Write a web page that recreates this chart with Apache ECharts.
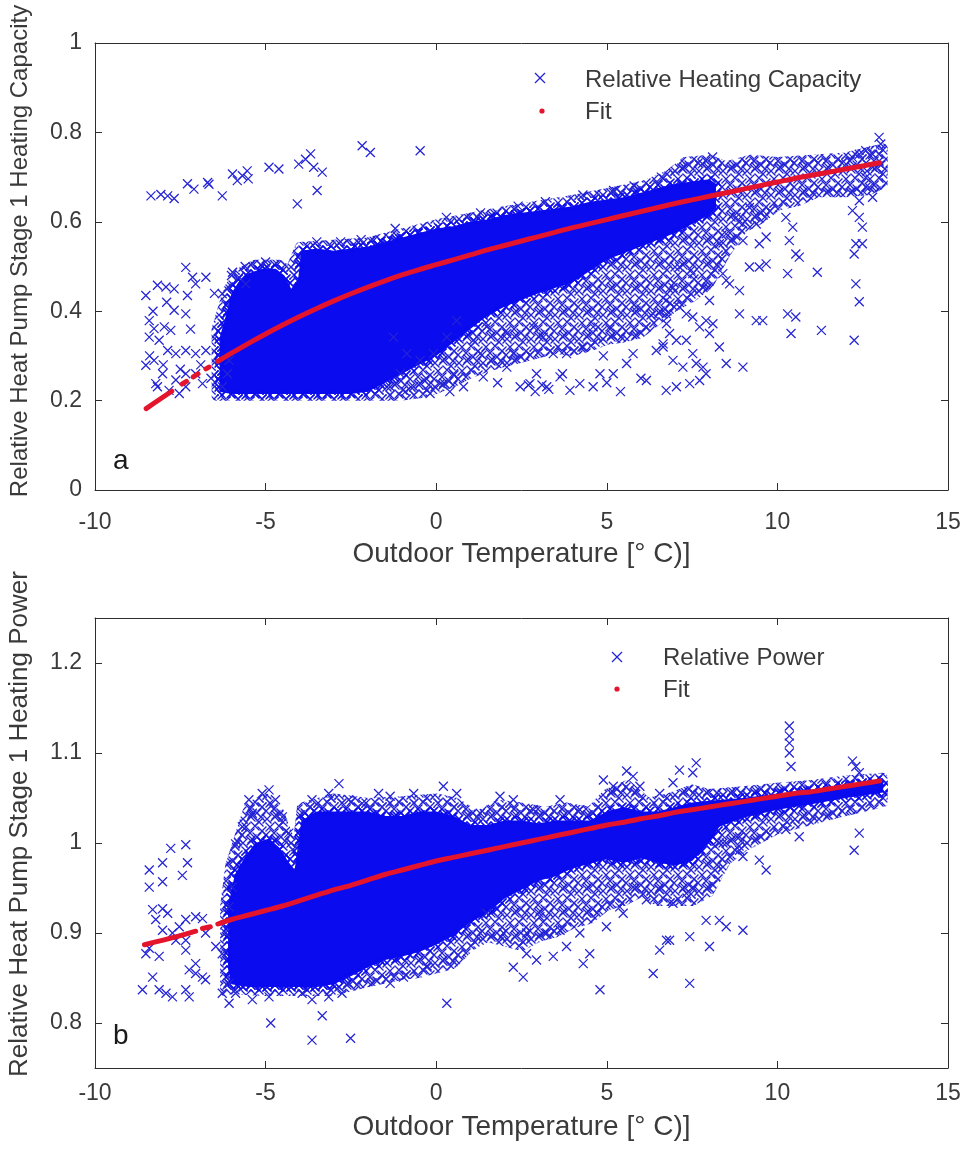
<!DOCTYPE html>
<html>
<head>
<meta charset="utf-8">
<script src="https://cdn.jsdelivr.net/npm/echarts@6/dist/echarts.min.js"></script>
<style>
  html, body { margin: 0; padding: 0; background: #ffffff; }
  #chart { width: 969px; height: 1153px; }
</style>
</head>
<body>
<div id="chart"></div>
<script>
// ---------- axis ticks ----------
const tempTicks = [-10, -5, 0, 5, 10, 15];
const capTicks = [0, 0.2, 0.4, 0.6, 0.8, 1];
const powTicks = [0.8, 0.9, 1, 1.1, 1.2];

// ---------- panel a: relative heating capacity vs outdoor temperature ----------
// densely overplotted core of the readings: upper edge (left to right), lower edge (right to left)
const capCoreUpper = [[-6.35,0.22],[-6.35,0.34],[-6.2,0.38],[-6.0,0.44],[-5.8,0.465],[-5.5,0.485],[-5.1,0.495],[-4.7,0.495],[-4.45,0.48],[-4.25,0.45],[-4.05,0.47],[-3.95,0.535],[-3.5,0.54],[-3.0,0.535],[-2.5,0.54],[-2.0,0.545],[-1.5,0.555],[-1.0,0.565],[-0.5,0.575],[0,0.585],[0.5,0.59],[1,0.60],[1.5,0.605],[2,0.615],[2.5,0.62],[3,0.625],[3.5,0.63],[4,0.635],[4.5,0.645],[5,0.65],[5.5,0.655],[6,0.665],[6.5,0.675],[7,0.685],[7.5,0.69],[8,0.695],[8.2,0.685]];
const capCoreLower = [[8.2,0.63],[8,0.615],[7,0.575],[6,0.545],[5,0.515],[4.5,0.49],[4,0.465],[3,0.44],[2,0.41],[1.5,0.39],[1,0.36],[0.5,0.33],[0,0.30],[-0.5,0.28],[-1,0.26],[-1.5,0.24],[-2,0.22],[-2.5,0.215],[-3,0.215],[-4,0.215],[-5,0.215],[-6,0.215]];
// looser halo of crosses around the core
const capHaloUpper = [[-6.45,0.21],[-6.45,0.36],[-6.1,0.45],[-5.8,0.485],[-5.3,0.505],[-4.6,0.505],[-4.3,0.49],[-4.0,0.545],[-2.0,0.555],[0,0.595],[2,0.625],[4,0.65],[6,0.68],[6.8,0.705],[7.3,0.735],[8.0,0.74],[8.5,0.725],[9.2,0.74],[10,0.735],[11,0.74],[12,0.745],[12.8,0.76],[13.1,0.765]];
const capHaloLower = [[13.1,0.685],[12.7,0.67],[12,0.665],[11.2,0.665],[10.6,0.645],[10,0.635],[9.5,0.605],[9,0.585],[8.5,0.53],[8.0,0.46],[7.5,0.43],[7,0.41],[6.5,0.38],[6,0.35],[5.5,0.34],[5,0.335],[4.5,0.32],[4,0.31],[3.5,0.315],[3,0.305],[2.5,0.295],[2,0.285],[1.5,0.275],[1,0.26],[0.5,0.24],[0,0.225],[-0.5,0.215],[-1,0.21],[-2,0.21],[-2.5,0.21]];
// individual readings outside the dense cloud
const capPoints = [
  [-8.36,0.658],[-8.07,0.661],[-7.87,0.658],[-7.68,0.652],[-7.29,0.685],[-7.10,0.673],[-6.70,0.688],[-6.66,0.684],[-6.27,0.658],[-5.97,0.707],[-5.83,0.692],[-5.68,0.703],[-5.54,0.714],[-5.51,0.696],[-4.90,0.722],[-4.61,0.718],[-4.03,0.729],[-3.83,0.740],[-3.68,0.752],[-3.59,0.722],[-3.34,0.711],[-3.49,0.670],[-4.07,0.640],[-2.17,0.770],[-1.93,0.755],[-0.47,0.759],
  [-8.51,0.435],[-8.17,0.458],[-7.92,0.454],[-7.68,0.450],[-7.34,0.498],[-7.14,0.476],[-7.05,0.461],[-6.75,0.476],[-7.29,0.435],[-7.68,0.402],[-7.34,0.394],[-8.41,0.379],[-8.27,0.361],[-7.97,0.365],[-7.78,0.357],[-8.41,0.342],[-8.12,0.335],[-7.87,0.312],[-7.63,0.305],[-7.34,0.312],[-7.05,0.305],[-8.51,0.279],[-8.27,0.290],[-8.02,0.260],[-8.22,0.238],[-7.63,0.246],[-7.34,0.231],[-7.34,0.260],[-7.05,0.260],[-6.75,0.312],[-6.85,0.238],[-6.27,0.439],[-5.97,0.487],[-5.78,0.476],[-5.58,0.461],[-6.27,0.231],[-6.12,0.260],[-6.07,0.290],[-8.17,0.231],[-7.83,0.223],[-7.53,0.216],[-8.40,0.300],[-8.00,0.280],[-7.50,0.270],[-7.20,0.360],[-6.90,0.280],[-8.30,0.400],[-7.90,0.420],[-6.60,0.250],[-6.50,0.440],
  [-1.35,0.231],[-1.05,0.260],[-0.66,0.231],[-0.18,0.216],[0.12,0.238],[0.51,0.260],[0.80,0.231],[1.38,0.253],[2.07,0.275],[2.46,0.231],[2.75,0.238],[2.94,0.260],[3.24,0.231],[3.63,0.253],[3.92,0.223],[4.21,0.238],[4.60,0.231],[4.80,0.260],[5.19,0.260],[5.58,0.283],[5.77,0.305],[6.16,0.245],[6.45,0.312],[6.65,0.327],[6.75,0.372],[6.36,0.394],[5.87,0.409],[5.09,0.365],[4.60,0.365],[4.31,0.320],[3.82,0.305],[3.43,0.305],[3.14,0.342],[2.85,0.365],[2.26,0.305],[2.07,0.350],[1.48,0.365],[1.29,0.305],[1.09,0.335],[0.60,0.379],[0.31,0.342],[-0.08,0.305],[-0.47,0.290],[-0.86,0.305],[-1.25,0.342],
  [1.8,0.24],[2.7,0.235],[2.9,0.22],[3.1,0.235],[3.3,0.225],[5.0,0.24],[5.4,0.22],[6.0,0.25],[4.9,0.30],[3.7,0.26],[0.4,0.22],[-0.9,0.22],[-0.3,0.25],
  [12.20,0.625],[12.40,0.610],[12.49,0.588],[12.30,0.551],[12.49,0.551],[12.25,0.528],[12.30,0.461],[12.40,0.421],[12.25,0.335],
  [12.98,0.789],[13.03,0.774],[12.79,0.751],[12.40,0.751],[12.59,0.759],[12.20,0.744],[12.01,0.729],[12.79,0.722],[12.98,0.736],[12.59,0.699],[12.69,0.677],[12.40,0.647],[12.79,0.655],
  [10.25,0.610],[10.45,0.588],[10.35,0.558],[10.54,0.528],[10.64,0.521],[10.30,0.484],[10.30,0.394],[10.54,0.387],[10.40,0.350],[11.17,0.487],[11.29,0.357],
  [8.99,0.558],[9.18,0.499],[9.47,0.499],[9.67,0.506],[8.89,0.446],[8.89,0.394],[9.38,0.379],[9.57,0.379],[8.99,0.275],[8.50,0.283],[8.30,0.320],[8.60,0.461],[8.50,0.469],[8.40,0.484],[9.47,0.551],[9.67,0.566],[9.38,0.595],[9.57,0.625],[9.18,0.632],[8.79,0.610],[8.99,0.595],[8.50,0.573],[8.30,0.551],
  [6.74,0.424],[6.94,0.453],[7.13,0.409],[7.33,0.394],[7.52,0.387],[7.72,0.365],[7.91,0.379],[8.01,0.350],[6.84,0.350],[7.04,0.335],[7.33,0.335],[7.52,0.305],[7.62,0.283],[7.82,0.275],[7.91,0.260],[7.72,0.245],[7.43,0.238],[7.04,0.231],[6.74,0.223],[8.11,0.372],[6.65,0.320],[6.94,0.290],[7.23,0.275],[6.74,0.394],[7.13,0.499],[7.52,0.484],[7.82,0.453],[8.01,0.424],
  [-3.5,0.555],[-2.8,0.555],[-2.2,0.56],[-1.2,0.585],[0.3,0.61],[1.3,0.62],[2.4,0.635],[3.2,0.645],[4.3,0.66],[5.2,0.67],[5.8,0.68],[6.6,0.70],[7.2,0.72],[7.8,0.73],[8.1,0.745],[-5.6,0.50],[-5.0,0.51],[-6.0,0.48]
];
// fitted capacity curve: short dashes where readings are sparse, then the continuous part
const capFitDashes = [
  [[-8.5,0.182],[-8.1,0.203],[-7.75,0.221]],
  [[-7.45,0.237],[-7.32,0.243]],
  [[-7.12,0.253],[-6.98,0.260]],
  [[-6.75,0.271],[-6.66,0.275]]
];
const capFitMain = [[-6.4,0.288],[-6,0.306],[-5.5,0.328],[-5,0.349],[-4.5,0.369],[-4,0.388],[-3.5,0.406],[-3,0.423],[-2.5,0.439],[-2,0.454],[-1.5,0.468],[-1,0.481],[-0.5,0.493],[0,0.504],[0.5,0.515],[1,0.526],[1.5,0.537],[2,0.547],[2.5,0.557],[3,0.567],[3.5,0.577],[4,0.587],[4.5,0.596],[5,0.605],[5.5,0.614],[6,0.623],[6.5,0.632],[7,0.641],[7.5,0.649],[8,0.657],[8.5,0.665],[9,0.673],[9.5,0.681],[10,0.689],[10.5,0.697],[11,0.704],[11.5,0.711],[12,0.718],[12.5,0.725],[13,0.732]];

// ---------- panel b: relative power vs outdoor temperature ----------
const powCoreUpper = [[-6.1,0.86],[-6.1,0.93],[-5.9,0.965],[-5.6,0.985],[-5.3,1.0],[-4.9,1.005],[-4.6,0.995],[-4.35,0.98],[-4.15,0.97],[-3.95,1.025],[-3.5,1.035],[-3,1.035],[-2.5,1.035],[-2,1.035],[-1.5,1.03],[-1,1.03],[-0.5,1.035],[0,1.035],[0.5,1.03],[1,1.02],[1.5,1.02],[2,1.025],[2.5,1.025],[3,1.022],[3.5,1.025],[4,1.025],[4.5,1.025],[5,1.035],[5.5,1.04],[6,1.035],[6.5,1.035],[7,1.04],[7.5,1.045],[8,1.047],[9,1.05],[10,1.055],[11,1.058],[12,1.064],[13,1.07],[13.1,1.068]];
const powCoreLower = [[13.1,1.056],[12,1.05],[11,1.043],[10,1.037],[9,1.028],[8.3,1.018],[8,1.0],[7.5,0.98],[7,0.975],[6.5,0.978],[6,0.983],[5.5,0.978],[5,0.982],[4.5,0.977],[4,0.972],[3.5,0.963],[3,0.958],[2.5,0.948],[2,0.938],[1.5,0.922],[1,0.912],[0.5,0.897],[0,0.887],[-0.5,0.879],[-1,0.874],[-1.5,0.87],[-2,0.862],[-2.5,0.852],[-3,0.843],[-3.5,0.84],[-4,0.84],[-4.5,0.84],[-5,0.84],[-5.5,0.84],[-6,0.843]];
const powHaloUpper = [[-6.2,0.835],[-6.2,0.93],[-6.05,0.975],[-5.8,1.005],[-5.5,1.04],[-5.0,1.05],[-4.6,1.035],[-4.3,1.005],[-4.1,0.99],[-3.95,1.04],[-3.0,1.05],[-2.0,1.045],[-1,1.047],[0,1.05],[0.6,1.045],[1.2,1.03],[1.8,1.043],[2.5,1.04],[3.2,1.035],[3.8,1.04],[4.5,1.035],[5.0,1.055],[5.6,1.065],[6.2,1.045],[6.8,1.05],[7.5,1.06],[8.0,1.055],[9,1.058],[10,1.062],[11,1.065],[12,1.07],[13.1,1.073]];
const powHaloLower = [[13.1,1.045],[12,1.035],[11,1.025],[10,1.015],[9,0.995],[8.5,0.98],[8.0,0.945],[7.5,0.935],[7,0.935],[6.5,0.935],[6,0.945],[5.5,0.935],[5,0.93],[4.5,0.915],[4,0.91],[3.5,0.9],[3,0.895],[2.5,0.885],[2,0.89],[1.5,0.895],[1,0.885],[0.5,0.865],[0,0.86],[-0.5,0.855],[-1,0.853],[-2,0.845],[-3,0.835],[-4,0.835],[-5,0.835],[-6,0.837]];
const powPoints = [
  [-8.41,0.970],[-8.02,0.978],[-7.78,0.994],[-7.34,0.998],[-8.41,0.951],[-8.02,0.957],[-7.44,0.964],[-7.29,0.978],[-8.31,0.926],[-8.02,0.927],[-7.87,0.922],[-8.22,0.915],[-8.02,0.903],[-7.73,0.900],[-7.53,0.907],[-7.34,0.915],[-7.05,0.918],[-6.85,0.916],[-8.41,0.883],[-8.12,0.874],[-7.63,0.892],[-7.34,0.892],[-7.34,0.881],[-7.05,0.866],[-7.24,0.859],[-6.85,0.851],[-8.51,0.877],[-8.61,0.837],[-8.31,0.851],[-8.12,0.837],[-7.92,0.833],[-7.73,0.829],[-7.34,0.837],[-7.24,0.829],[-7.05,0.855],[-6.76,0.848],[-6.76,0.900],[-6.27,0.833],[-6.07,0.822],[-6.27,0.877],[-6.46,0.885],
  [-4.85,0.800],[-3.64,0.781],[-3.34,0.808],[-2.51,0.783],
  [-5.49,1.048],[-5.10,1.055],[-4.90,1.059],[-4.71,1.048],[-5.39,1.033],[-5.68,1.018],[-5.88,0.999],[-4.51,1.029],[-4.32,1.011],[-4.12,0.996],[-3.64,1.048],[-3.15,1.055],[-2.85,1.066],[-2.56,1.048],[-2.17,1.044],[-1.69,1.055],
  [-6.07,0.844],[-5.88,0.833],[-5.39,0.826],[-4.90,0.829],[-3.93,0.833],[-3.64,0.826],[-3.15,0.829],[-2.76,0.833],[-6.07,0.929],[-6.17,0.900],[-5.98,0.951],
  [-1.35,0.844],[-0.96,0.851],[-0.27,0.862],[0.31,0.822],[1.97,0.900],[1.48,0.922],[1.29,0.900],[2.26,0.862],[2.55,0.851],[2.65,0.877],[2.94,0.870],[3.43,0.874],[3.63,0.903],[4.21,0.900],[4.31,0.866],[4.50,0.877],[4.80,0.837],[4.99,0.907],[5.38,0.929],[5.48,0.922],[5.77,0.951],[6.16,0.937],[6.36,0.855],[6.55,0.881],[6.75,0.892],[3.82,0.885],[3.24,0.900],[3.04,0.918],[2.65,0.900],
  [-1.35,1.052],[-0.66,1.055],[0.21,1.063],[0.60,1.055],[1.29,1.033],[1.87,1.052],[2.26,1.048],[2.85,1.037],[3.63,1.048],[4.21,1.037],[4.90,1.070],[5.19,1.063],[5.58,1.080],[5.77,1.074],[5.97,1.063],[6.55,1.055],
  [10.35,1.130],[10.35,1.119],[10.35,1.111],[10.35,1.100],[10.40,1.085],[12.2,1.091],[12.3,1.085],[12.4,1.078],[12.4,1.011],[12.25,0.992],[10.25,1.015],[10.64,1.007],[9.47,0.981],[9.67,0.970],[8.89,0.992],[8.99,0.985],[8.89,1.007],[8.5,1.0],[8.3,1.0],[8.99,0.903],[8.01,0.885],[7.43,0.844],[6.84,0.892],[7.43,0.896],[7.91,0.914],[8.3,0.914],[8.5,0.907],[6.94,0.933],[6.55,0.948],[7.33,0.944],[7.52,0.951],[7.13,1.081],[7.62,1.089],[6.94,1.067],[7.52,1.078]
];
const powFitDashes = [
  [[-8.55,0.887],[-8,0.892],[-7.5,0.897],[-7.05,0.902]],
  [[-6.85,0.905],[-6.62,0.907]]
];
const powFitMain = [[-6.4,0.910],[-6,0.915],[-5.5,0.920],[-5,0.925],[-4.5,0.930],[-4,0.936],[-3.5,0.942],[-3,0.948],[-2.5,0.953],[-2,0.959],[-1.5,0.965],[-1,0.970],[-0.5,0.975],[0,0.980],[0.5,0.984],[1,0.988],[1.5,0.992],[2,0.996],[2.5,1.000],[3,1.004],[3.5,1.008],[4,1.012],[4.5,1.016],[5,1.020],[5.5,1.023],[6,1.027],[6.5,1.030],[7,1.034],[7.5,1.037],[8,1.040],[8.5,1.043],[9,1.046],[9.5,1.049],[10,1.052],[10.5,1.055],[11,1.057],[11.5,1.060],[12,1.063],[12.5,1.066],[13,1.069]];

// ---------- styling ----------
const BLUE = '#2424d6';
const CORE_BLUE = '#0b0bef';
const RED = '#e3142c';
const AXIS = '#2e2e2e';
const TEXT = '#3a3a3a';
const FONT = '"Liberation Sans", Arial, Helvetica, sans-serif';

// tile of overlapping crosses used for the halo of the point cloud
function crossTile(color, width) {
  const c = document.createElement('canvas');
  c.width = 24; c.height = 24;
  const g = c.getContext('2d');
  g.strokeStyle = color; g.lineWidth = width;
  const centres = [[3,3],[11,1],[19,6],[6,11],[15,10],[22,15],[2,19],[10,17],[17,21],[12,23],[21,1]];
  for (const [cx, cy] of centres) {
    for (const dx of [-24, 0, 24]) for (const dy of [-24, 0, 24]) {
      const x = cx + dx, y = cy + dy;
      g.beginPath();
      g.moveTo(x - 4.5, y - 4.5); g.lineTo(x + 4.5, y + 4.5);
      g.moveTo(x + 4.5, y - 4.5); g.lineTo(x - 4.5, y + 4.5);
      g.stroke();
    }
  }
  return c;
}
const haloFill = { image: crossTile(BLUE, 1.25), repeat: 'repeat' };
const edgeFill = { image: crossTile(CORE_BLUE, 1.3), repeat: 'repeat' };

function ring(upper, lower) { return upper.concat(lower); }

// polygon through the library's coordinate system; a textured stroke roughens its border
function areaSeries(idx, pts, fill, z, edge) {
  return {
    type: 'custom', xAxisIndex: idx, yAxisIndex: idx, z: z, silent: true,
    data: [pts[0]],
    renderItem: function (params, api) {
      return {
        type: 'polygon',
        shape: { points: pts.map(p => api.coord(p)) },
        style: { fill: fill, stroke: edge, lineWidth: 9, lineJoin: 'round' }
      };
    }
  };
}

function joinSegments(segs) {
  const out = [];
  segs.forEach((s, i) => { if (i) out.push('-'); s.forEach(p => out.push(p)); });
  return out;
}

const crossSymbol = 'path://M0,0L10,10M10,0L0,10';

function pointSeries(idx, name, pts) {
  return {
    type: 'scatter', name: name, xAxisIndex: idx, yAxisIndex: idx, z: 5,
    data: pts, symbol: crossSymbol, symbolSize: 9,
    itemStyle: { color: 'rgba(0,0,0,0)', borderColor: BLUE, borderWidth: 1.25, opacity: 1 },
    emphasis: { disabled: true }, silent: true
  };
}

function fitSeries(idx, segs) {
  return {
    type: 'line', name: 'Fit', xAxisIndex: idx, yAxisIndex: idx, z: 8,
    data: joinSegments(segs), showSymbol: false, symbol: 'none', connectNulls: false,
    smooth: 0.3,
    lineStyle: { color: RED, width: 5, cap: 'round', join: 'round' },
    emphasis: { disabled: true }, silent: true
  };
}

function xAxes(grid, labelMargin, nameGap) {
  const base = {
    gridIndex: grid, type: 'value', min: -10, max: 15, interval: 5,
    axisLine: { show: true, onZero: false, lineStyle: { color: AXIS, width: 1 } },
    axisTick: { show: true, inside: true, length: 7, lineStyle: { color: AXIS } },
    splitLine: { show: false }
  };
  return [
    Object.assign({}, base, {
      position: 'bottom',
      axisLabel: { show: true, fontSize: 23, color: TEXT, fontFamily: FONT, margin: labelMargin,
        formatter: v => tempTicks.includes(v) ? String(v) : '' },
      name: 'Outdoor Temperature [° C)]', nameLocation: 'middle', nameGap: nameGap,
      nameTextStyle: { fontSize: 28, color: TEXT, fontFamily: FONT }
    }),
    Object.assign({}, base, { position: 'top', axisLabel: { show: false } })
  ];
}

function yAxes(grid, min, max, ticks, interval) {
  const base = {
    gridIndex: grid, type: 'value', min: min, max: max,
    axisLine: { show: true, onZero: false, lineStyle: { color: AXIS, width: 1 } },
    axisTick: { show: true, inside: true, length: 7, lineStyle: { color: AXIS }, customValues: ticks },
    splitLine: { show: false }
  };
  if (interval) base.interval = interval;
  return [
    Object.assign({}, base, {
      position: 'left',
      axisLabel: { show: true, fontSize: 23, color: TEXT, fontFamily: FONT, margin: 13, customValues: ticks }
    }),
    Object.assign({}, base, { position: 'right', axisLabel: { show: false } })
  ];
}

function crossMark(cx, cy) {
  return [
    { type: 'line', shape: { x1: cx - 5, y1: cy - 5, x2: cx + 5, y2: cy + 5 }, style: { stroke: BLUE, lineWidth: 1.3 } },
    { type: 'line', shape: { x1: cx + 5, y1: cy - 5, x2: cx - 5, y2: cy + 5 }, style: { stroke: BLUE, lineWidth: 1.3 } }
  ];
}
function text(x, y, str, size, extra) {
  return Object.assign({ type: 'text', x: x, y: y,
    style: Object.assign({ text: str, fontSize: size, fontFamily: FONT, fill: TEXT, textVerticalAlign: 'middle' }, (extra && extra.style) || {}) },
    extra && extra.rotation ? { rotation: extra.rotation } : {});
}

const chart = echarts.init(document.getElementById('chart'), null, { renderer: 'canvas' });

const option = {
  animation: false,
  backgroundColor: '#ffffff',
  grid: [
    { left: 95, top: 43, width: 853, height: 447 },
    { left: 95, top: 618, width: 853, height: 450 }
  ],
  xAxis: xAxes(0, 21, 50).concat(xAxes(1, 14, 45)),
  yAxis: yAxes(0, 0, 1, capTicks, 0.2).concat(yAxes(1, 0.75, 1.25, powTicks, null)),
  series: [
    areaSeries(0, ring(capHaloUpper, capHaloLower), haloFill, 1, haloFill),
    areaSeries(0, ring(capCoreUpper, capCoreLower), CORE_BLUE, 2, edgeFill),
    pointSeries(0, 'Relative Heating Capacity', capPoints),
    fitSeries(0, capFitDashes.concat([capFitMain])),
    areaSeries(2, ring(powHaloUpper, powHaloLower), haloFill, 1, haloFill),
    areaSeries(2, ring(powCoreUpper, powCoreLower), CORE_BLUE, 2, edgeFill),
    pointSeries(2, 'Relative Power', powPoints),
    fitSeries(2, powFitDashes.concat([powFitMain]))
  ],
  graphic: [
    // titles of the vertical axes
    text(20, 251, 'Relative Heat Pump Stage 1 Heating Capacity', 24, { rotation: Math.PI / 2, style: { textAlign: 'center' } }),
    text(20, 824, 'Relative Heat Pump Stage 1 Heating Power', 26, { rotation: Math.PI / 2, style: { textAlign: 'center' } }),
    // panel letters
    text(113, 461, 'a', 28, { style: { fill: '#1a1a1a' } }),
    text(113, 1036, 'b', 28, { style: { fill: '#1a1a1a' } }),
    // legend, panel a
    ...crossMark(540, 78),
    text(585, 80, 'Relative Heating Capacity', 24),
    { type: 'circle', shape: { cx: 542, cy: 111, r: 2.6 }, style: { fill: RED } },
    text(585, 112, 'Fit', 24),
    // legend, panel b
    ...crossMark(617, 657),
    text(663, 658, 'Relative Power', 24),
    { type: 'circle', shape: { cx: 617, cy: 689, r: 2.6 }, style: { fill: RED } },
    text(663, 690, 'Fit', 24)
  ]
};
chart.setOption(option);
</script>
</body>
</html>
